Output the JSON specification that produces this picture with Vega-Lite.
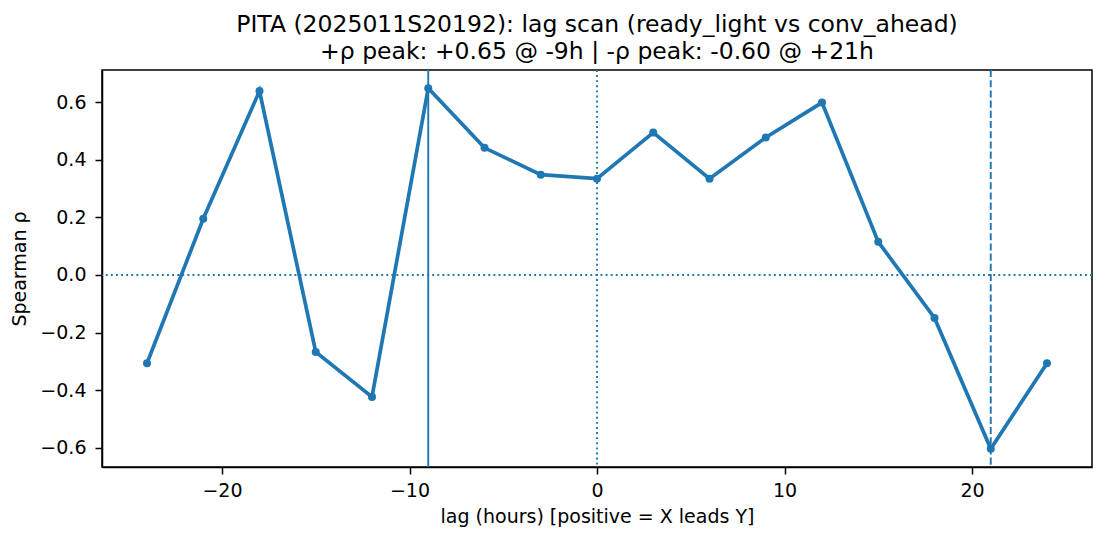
{
  "$schema": "https://vega.github.io/schema/vega-lite/v6.json",
  "width": 990,
  "height": 397,
  "autosize": {"type": "none"},
  "padding": {"left": 102, "top": 70, "right": 13, "bottom": 73},
  "background": "white",
  "title": {
    "text": ["PITA (2025011S20192): lag scan (ready_light vs conv_ahead)", "+ρ peak: +0.65 @ -9h | -ρ peak: -0.60 @ +21h"],
    "font": "DejaVu Sans",
    "fontSize": 23.5,
    "fontWeight": "normal",
    "color": "black",
    "anchor": "middle",
    "lineHeight": 27,
    "offset": 6
  },
  "config": {
    "view": {"stroke": "black", "strokeWidth": 1.5},
    "axis": {
      "grid": false,
      "labelFont": "DejaVu Sans",
      "labelFontSize": 19,
      "labelColor": "black",
      "titleFont": "DejaVu Sans",
      "titleFontSize": 19,
      "titleFontWeight": "normal",
      "titleColor": "black",
      "tickColor": "black",
      "tickSize": 7,
      "tickWidth": 1.5,
      "domainColor": "black",
      "domainWidth": 1.5
    }
  },
  "datasets": {
    "scan": [
      {"lag": -24, "rho": -0.306},
      {"lag": -21, "rho": 0.195},
      {"lag": -18, "rho": 0.638},
      {"lag": -15, "rho": -0.267},
      {"lag": -12, "rho": -0.423},
      {"lag": -9, "rho": 0.648},
      {"lag": -6, "rho": 0.441},
      {"lag": -3, "rho": 0.348},
      {"lag": 0, "rho": 0.334},
      {"lag": 3, "rho": 0.494},
      {"lag": 6, "rho": 0.334},
      {"lag": 9, "rho": 0.477},
      {"lag": 12, "rho": 0.598},
      {"lag": 15, "rho": 0.115},
      {"lag": 18, "rho": -0.149},
      {"lag": 21, "rho": -0.603},
      {"lag": 24, "rho": -0.306}
    ]
  },
  "layer": [
    {
      "data": {"values": [{"rho": 0}]},
      "mark": {"type": "rule", "color": "#1f77b4", "strokeWidth": 1.9, "strokeDash": [1.9, 3.2]},
      "encoding": {
        "y": {"field": "rho", "type": "quantitative", "scale": {"domain": [-0.666, 0.711], "nice": false, "zero": false}}
      }
    },
    {
      "data": {"values": [{"lag": 0}]},
      "mark": {"type": "rule", "color": "#1f77b4", "strokeWidth": 1.9, "strokeDash": [1.9, 3.2]},
      "encoding": {
        "x": {"field": "lag", "type": "quantitative", "scale": {"domain": [-26.4, 26.4], "nice": false, "zero": false}}
      }
    },
    {
      "data": {"values": [{"lag": -9}]},
      "mark": {"type": "rule", "color": "#1f77b4", "strokeWidth": 1.9},
      "encoding": {
        "x": {"field": "lag", "type": "quantitative", "scale": {"domain": [-26.4, 26.4], "nice": false, "zero": false}}
      }
    },
    {
      "data": {"values": [{"lag": 21}]},
      "mark": {"type": "rule", "color": "#1f77b4", "strokeWidth": 1.9, "strokeDash": [7.1, 3.1]},
      "encoding": {
        "x": {"field": "lag", "type": "quantitative", "scale": {"domain": [-26.4, 26.4], "nice": false, "zero": false}}
      }
    },
    {
      "data": {"name": "scan"},
      "mark": {"type": "line", "color": "#1f77b4", "strokeWidth": 3.7, "point": {"filled": true, "size": 64, "color": "#1f77b4", "opacity": 1}},
      "encoding": {
        "x": {
          "field": "lag", "type": "quantitative",
          "scale": {"domain": [-26.4, 26.4], "nice": false, "zero": false},
          "axis": {"values": [-20, -10, 0, 10, 20], "format": "d", "labelPadding": 7, "title": "lag (hours) [positive = X leads Y]", "titlePadding": 7}
        },
        "y": {
          "field": "rho", "type": "quantitative",
          "scale": {"domain": [-0.666, 0.711], "nice": false, "zero": false},
          "axis": {"values": [-0.6, -0.4, -0.2, 0, 0.2, 0.4, 0.6], "format": ".1f", "labelPadding": 9, "title": "Spearman ρ", "titlePadding": 10}
        }
      }
    }
  ]
}
